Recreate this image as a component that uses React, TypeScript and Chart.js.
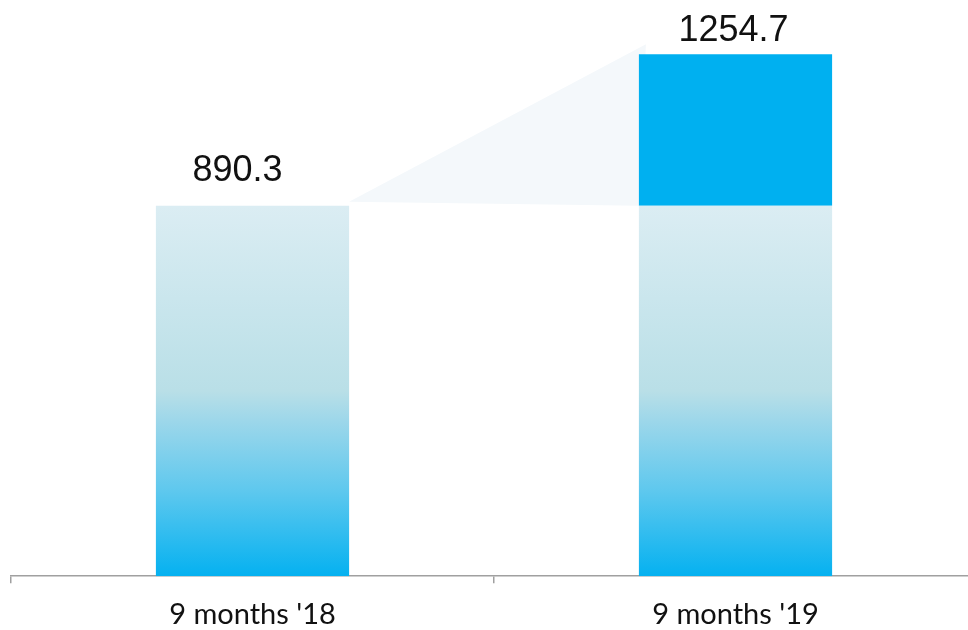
import React, { useEffect, useRef } from "react";
import { Chart, registerables } from "chart.js";

Chart.register(...registerables);

const categories = ["9 months '18", "9 months '19"];
const baseValues = [890.3, 890.3];
const increaseValues: (number | null)[] = [null, 364.4];
const totalValues = [890.3, 1254.7];
const valueLabels = ["890.3", "1254.7"];

const labelDx = [-15, -2];
const labelDy = [25, 13];

export default function App() {
  const ref = useRef<HTMLCanvasElement | null>(null);

  useEffect(() => {
    if (!ref.current) return;

    const bridgePlugin = {
      id: "bridge",
      beforeDatasetsDraw(chart: any) {
        const meta = chart.getDatasetMeta(0);
        const y = chart.scales.y;
        const b1 = meta.data[0];
        const b2 = meta.data[1];
        if (!b1 || !b2) return;
        const c = chart.ctx;
        const r1 = b1.x + b1.width / 2;
        const l2 = b2.x - b2.width / 2;
        c.save();
        c.fillStyle = "#f4f8fb";
        c.beginPath();
        c.moveTo(r1, y.getPixelForValue(totalValues[0]) - 4);
        c.lineTo(l2 + 7, y.getPixelForValue(totalValues[1]) - 10);
        c.lineTo(l2, y.getPixelForValue(totalValues[0]));
        c.closePath();
        c.fill();
        c.restore();
      },
    };

    const labelPlugin = {
      id: "valueLabels",
      afterDatasetsDraw(chart: any) {
        const meta = chart.getDatasetMeta(0);
        const y = chart.scales.y;
        const c = chart.ctx;
        c.save();
        c.fillStyle = "#111111";
        c.font = "36px 'Liberation Sans', Arial, sans-serif";
        c.textAlign = "center";
        c.textBaseline = "alphabetic";
        meta.data.forEach((bar: any, i: number) => {
          const py = y.getPixelForValue(totalValues[i]) - labelDy[i];
          c.fillText(valueLabels[i], bar.x + labelDx[i], py);
        });
        c.restore();
      },
    };

    const gradientFill = (ctx: any) => {
      const chart = ctx.chart;
      const { chartArea, scales } = chart;
      if (!chartArea) return "#9dd7ea";
      const y = scales.y;
      const top = y.getPixelForValue(Math.max(...baseValues));
      const bottom = y.getPixelForValue(0);
      const g = chart.ctx.createLinearGradient(0, top, 0, bottom);
      g.addColorStop(0, "#dbedf3");
      g.addColorStop(0.5, "#b9dfe7");
      g.addColorStop(0.58, "#9dd7ea");
      g.addColorStop(0.77, "#5ec8ee");
      g.addColorStop(1, "#05b1f0");
      return g;
    };

    const chart = new Chart(ref.current, {
      type: "bar",
      data: {
        labels: categories,
        datasets: [
          {
            label: "base",
            data: baseValues,
            backgroundColor: gradientFill,
            borderWidth: 0,
            barPercentage: 0.4,
            categoryPercentage: 1,
          },
          {
            label: "increase",
            data: increaseValues,
            backgroundColor: "#00b0f0",
            borderWidth: 0,
            barPercentage: 0.4,
            categoryPercentage: 1,
          },
        ],
      },
      options: {
        animation: false,
        responsive: false,
        maintainAspectRatio: false,
        layout: { padding: { left: 11, right: 13, top: 2, bottom: 0 } },
        plugins: {
          legend: { display: false },
          tooltip: { enabled: false },
          title: { display: false },
        },
        scales: {
          x: {
            stacked: true,
            grid: {
              display: true,
              drawOnChartArea: false,
              drawTicks: true,
              tickLength: 7,
              color: "#a0a0a0",
              lineWidth: 1.5,
              offset: true,
            },
            border: { display: true, color: "#a0a0a0", width: 1.5 },
            ticks: {
              color: "#111111",
              padding: 14,
              font: { family: "Lato, 'Open Sans', sans-serif", size: 29 },
              maxRotation: 0,
            },
          },
          y: {
            stacked: true,
            display: false,
            min: 0,
            max: 1380,
          },
        },
      },
      plugins: [bridgePlugin, labelPlugin],
    });

    return () => chart.destroy();
  }, []);

  return (
    <div
      style={{
        position: "fixed",
        left: 0,
        top: 0,
        width: 968,
        height: 630,
        overflow: "hidden",
        background: "#ffffff",
      }}
    >
      <canvas
        ref={ref}
        width={990}
        height={646}
        style={{ position: "absolute", left: 0, top: 0, width: 990, height: 646 }}
      />
    </div>
  );
}
